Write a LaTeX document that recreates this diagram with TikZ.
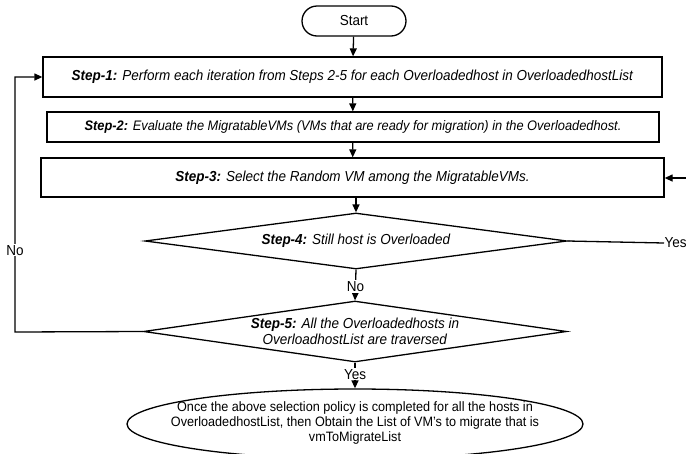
\documentclass[tikz,border=0pt]{standalone}
\usepackage{fontspec}
\setmainfont[FakeStretch=0.93]{Liberation Sans}
\usetikzlibrary{shapes.geometric,arrows.meta}

\begin{document}
\begin{tikzpicture}[x=1pt, y=-1pt, line width=1.3pt, >={Triangle[length=8pt,width=7pt]}]
    \tikzstyle{every node}=[align=center, font=\fontsize{14.5}{15.5}\selectfont]
    \tikzstyle{stepbox}=[draw, rectangle, inner sep=0pt]
    \tikzstyle{decision}=[draw, diamond, inner sep=0pt, aspect=7.3]
    \tikzstyle{lbl}=[fill=white, inner sep=1pt]
    \useasboundingbox (0,0) rectangle (686,453);
    \node[draw, rounded corners=15pt, minimum width=104pt, minimum height=30pt] (start) at (354,21) {Start};
    \node[stepbox, minimum width=619pt, minimum height=40pt] (step1) at (352.5,77)
        {\textbf{\textit{Step-1:}} \textit{Perform each iteration from Steps 2-5 for each Overloadedhost in OverloadedhostList}};
    \node[stepbox, minimum width=612pt, minimum height=30pt, font=\fontsize{13.8}{15.5}\selectfont] (step2) at (353,127)
        {\textbf{\textit{Step-2:}} \textit{Evaluate the MigratableVMs (VMs that are ready for migration) in the Overloadedhost.}};
    \node[stepbox, minimum width=623pt, minimum height=39pt] (step3) at (352.5,177.5)
        {\textbf{\textit{Step-3:}} \textit{Select the Random VM among the MigratableVMs.}};
    \node[decision, minimum width=422pt, minimum height=56pt] (step4) at (356,241)
        {\textbf{\textit{Step-4:}} \textit{Still host is Overloaded}};
    \node[decision, minimum width=423pt, minimum height=61pt] (step5) at (355,331.5)
        {\textbf{\textit{Step-5:}} \textit{All the Overloadedhosts in}\\ \textit{OverloadhostList are traversed}};
    \node[draw, ellipse, minimum width=456pt, minimum height=70pt] (finish) at (355,424) {};
    \node[font=\fontsize{13.6}{14.8}\selectfont] (finishtext) at (355,423) {Once the above selection policy is completed for all the hosts in\\
        OverloadedhostList, then Obtain the List of VM's to migrate that is\\ vmToMigrateList};
    % loop back and side exits
    \coordinate (loop) at (15,332);
    \coordinate (back) at (686,178);
    \node[anchor=west, inner sep=0pt] (yes4) at (664,243) {Yes};
    \draw[->] (start) -- (step1);
    \draw[->] (step1) -- (step2);
    \draw[->] (step2) -- (step3);
    \draw[->] (step3.south -| step4.north) -- (step4.north);
    \draw[->] (step4.south) -- (step5.north) node[lbl, pos=0.55] (no4) {No};
    \draw[->] (step5.south) -- (finish.north) node[lbl, pos=0.45] (yes5) {Yes};
    \draw (step4.east) -- (yes4.west);
    \draw[->] (back) -- (step3.east |- back);
    \draw[->] (step5.west) -- (loop) |- (step1.west) node[lbl, pos=0.16] (no5) {No};
\end{tikzpicture}
\end{document}
